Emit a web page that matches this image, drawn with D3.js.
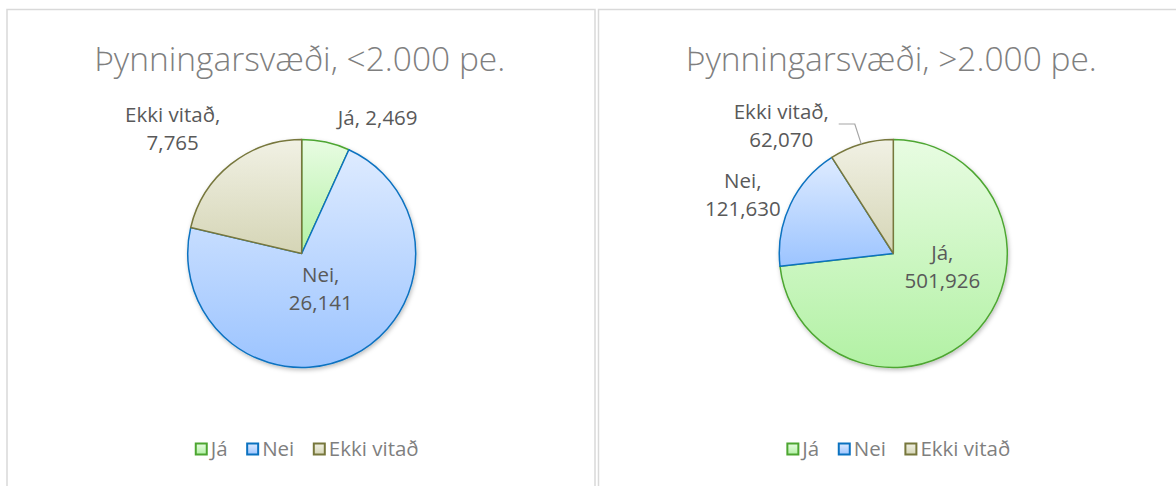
<!DOCTYPE html>
<html>
  <head>
    <meta http-equiv="Content-Type" content="text/html;charset=utf-8"/>
    <title>Þynningarsvæði</title>
    <script src="https://cdn.jsdelivr.net/npm/d3@7/dist/d3.min.js"></script>
    <style>
      body { margin: 0; background: #fff; }
      text { font-family: "Open Sans", "Noto Sans", sans-serif; }
    </style>
  </head>
  <body>
    <svg id="target"></svg>
  </body>
  <script>
    // data
    var categories = [ "Já", "Nei", "Ekki vitað" ];
    var smallValues = [ 2469, 26141, 7765 ];
    var largeValues = [ 501926, 121630, 62070 ];
    var titles = [ "Þynningarsvæði, <2.000 pe.", "Þynningarsvæði, >2.000 pe." ];

    var width = 1176;
    var height = 486;
    var radius = 114;
    var fmt = d3.format( "," );

    var svg = d3.select( "#target" ).attr( "width", width ).attr( "height", height );

    var fills = d3.scaleOrdinal().domain( categories ).range( [
      [ "#e8fce2", "#b2f1a4" ], [ "#deebff", "#9cc4ff" ], [ "#f1f1e4", "#d5d5b6" ] ] );
    var strokes = d3.scaleOrdinal().domain( categories ).range( [ "#4da631", "#0b72c0", "#77773c" ] );

    var defs = svg.append( "defs" );
    categories.forEach( function( c, i ) {
      var g = defs.append( "linearGradient" ).attr( "id", "grad" + i )
        .attr( "x1", 0 ).attr( "y1", 0 ).attr( "x2", 0 ).attr( "y2", 1 );
      g.append( "stop" ).attr( "offset", "0%" ).attr( "stop-color", fills( c )[0] );
      g.append( "stop" ).attr( "offset", "100%" ).attr( "stop-color", fills( c )[1] );
    });
    defs.append( "filter" ).attr( "id", "shadow" ).attr( "x", "-20%" ).attr( "y", "-20%" )
      .attr( "width", "140%" ).attr( "height", "140%" )
      .append( "feDropShadow" ).attr( "dx", 1 ).attr( "dy", 2 ).attr( "stdDeviation", 2 )
      .attr( "flood-color", "#000" ).attr( "flood-opacity", 0.25 );

    // layout of both chart panels; label offsets are relative to the pie centre
    var charts = [
      { x: 7, w: 588, cx: 301.7, cy: 253.5, title: titles[0], values: smallValues,
        labels: [ { dx: 76, dy: -135.5, wrap: false }, { dx: 19, dy: 35, wrap: true }, { dx: -129, dy: -124.5, wrap: true } ] },
      { x: 598.5, w: 600, cx: 893.3, cy: 253.5, title: titles[1], values: largeValues,
        labels: [ { dx: 49, dy: 13, wrap: true }, { dx: -150.5, dy: -58.5, wrap: true }, { dx: -112, dy: -127.5, wrap: true, leader: [ [ -54.6, -129.5 ], [ -38.5, -129.5 ] ] } ] }
    ];

    var pie = d3.pie().sort( null ).value( d => d.value );
    var arc = d3.arc().innerRadius( 0 ).outerRadius( radius );
    var edge = d3.arc().innerRadius( radius ).outerRadius( radius );

    charts.forEach( function( ch ) {
      var data = categories.map( ( c, i ) => ( { name: c, value: ch.values[i], idx: i } ) );

      svg.append( "rect" )
        .attr( "x", ch.x ).attr( "y", 9.5 ).attr( "width", ch.w ).attr( "height", height )
        .attr( "fill", "#fff" ).attr( "stroke", "#d9d9d9" ).attr( "stroke-width", 1.5 );

      svg.append( "text" )
        .attr( "x", ch.cx - 2 ).attr( "y", 71 )
        .attr( "text-anchor", "middle" )
        .attr( "font-size", 33.5 ).attr( "font-weight", 300 ).attr( "fill", "#7f7f7f" )
        .text( ch.title );

      var g = svg.append( "g" ).attr( "transform", "translate(" + ch.cx + "," + ch.cy + ")" );

      g.append( "g" ).attr( "filter", "url(#shadow)" )
        .selectAll( "path" ).data( pie( data ) )
        .enter().append( "path" )
          .attr( "d", arc )
          .attr( "fill", d => "url(#grad" + d.data.idx + ")" )
          .attr( "stroke", d => strokes( d.data.name ) )
          .attr( "stroke-width", 1.5 )
          .attr( "stroke-linejoin", "round" );

      pie( data ).forEach( function( d, i ) {
        var lab = ch.labels[i];
        var lines = lab.wrap ? [ d.data.name + ",", fmt( d.data.value ) ] : [ d.data.name + ", " + fmt( d.data.value ) ];
        var lh = 28;
        var t = g.append( "text" )
          .attr( "text-anchor", "middle" )
          .attr( "font-size", 20.5 ).attr( "fill", "#595959" );
        lines.forEach( function( s, k ) {
          t.append( "tspan" )
            .attr( "x", lab.dx )
            .attr( "y", lab.dy + ( k - ( lines.length - 1 ) / 2 ) * lh )
            .attr( "dy", "0.36em" )
            .text( s );
        });
        if ( lab.leader ) {
          var p = edge.centroid( d );
          g.append( "polyline" )
            .attr( "points", lab.leader.concat( [ p ] ).map( q => q.join( "," ) ).join( " " ) )
            .attr( "fill", "none" ).attr( "stroke", "#a6a6a6" ).attr( "stroke-width", 1.2 );
        }
      });

      // legend
      var lg = svg.append( "g" );
      var xpos = 0;
      categories.forEach( function( c, i ) {
        lg.append( "rect" )
          .attr( "x", xpos + 1 ).attr( "y", 443.5 ).attr( "width", 11 ).attr( "height", 11 )
          .attr( "fill", "url(#grad" + i + ")" ).attr( "stroke", strokes( c ) ).attr( "stroke-width", 2 );
        var tx = lg.append( "text" )
          .attr( "x", xpos + 16 ).attr( "y", 449 ).attr( "dy", "0.36em" )
          .attr( "font-size", 20.5 ).attr( "fill", "#7f7f7f" )
          .text( c );
        xpos += 16 + tx.node().getComputedTextLength() + 18.5;
      });
      var lw = xpos - 18.5;
      lg.attr( "transform", "translate(" + ( ch.cx + 5 - lw / 2 ) + ",0)" );
    });
  </script>
</html>
